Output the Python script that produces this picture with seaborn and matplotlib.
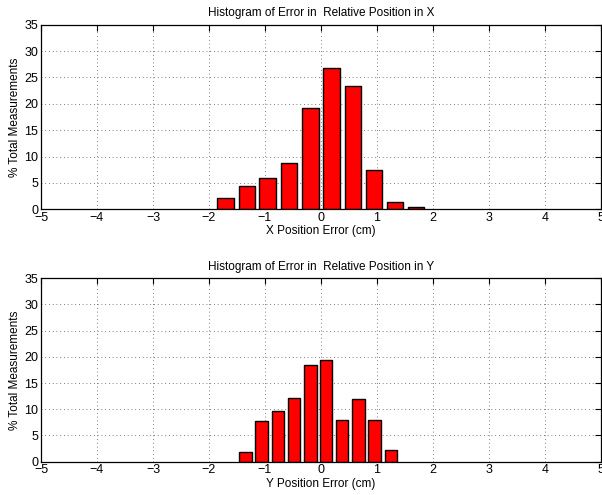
import numpy as np
import pandas as pd
import matplotlib
matplotlib.use("Agg")
import matplotlib.pyplot as plt
import seaborn as sns

x_centers = [-1.70, -1.32, -0.95, -0.57, -0.19, 0.19, 0.57, 0.95, 1.32, 1.70]
x_percent = [2.1, 4.5, 5.9, 8.8, 19.2, 26.7, 23.3, 7.4, 1.4, 0.45]

y_centers = [-1.35, -1.06, -0.77, -0.48, -0.19, 0.09, 0.38, 0.67, 0.96, 1.25]
y_percent = [1.8, 7.7, 9.7, 12.2, 18.5, 19.5, 8.0, 12.0, 7.9, 2.2]

x_ticks = [-5, -4, -3, -2, -1, 0, 1, 2, 3, 4, 5]
y_ticks = [0, 5, 10, 15, 20, 25, 30, 35]

sns.set_style("white")
plt.rcParams["font.family"] = ["Liberation Sans", "DejaVu Sans"]
plt.rcParams["font.size"] = 8.5
plt.rcParams["text.color"] = "black"
plt.rcParams["axes.labelcolor"] = "black"
plt.rcParams["xtick.color"] = "black"
plt.rcParams["ytick.color"] = "black"

fig = plt.figure(figsize=(6.02, 4.95), dpi=100)
ax_top = fig.add_axes([0.0681, 0.5772, 0.930, 0.373])
ax_bot = fig.add_axes([0.0681, 0.0673, 0.930, 0.3705])


def draw_hist(ax, centers, pct, title, xlabel):
    df = pd.DataFrame({"err": centers, "pct": pct})
    sns.barplot(data=df, x="err", y="pct", native_scale=True, width=0.8,
                color="red", saturation=1, edgecolor="black", linewidth=1,
                ax=ax)
    ax.set_xlim(-5, 5)
    ax.set_ylim(0, 35)
    ax.set_xticks(x_ticks)
    ax.set_yticks(y_ticks)
    ax.grid(True, linestyle=(0, (1, 3.5)), color="#555555", linewidth=0.6)
    ax.set_axisbelow(True)
    ax.tick_params(direction="in", top=True, right=True, length=4, width=0.8,
                   labelsize=9, pad=2)
    for s in ax.spines.values():
        s.set_visible(True)
        s.set_color("black")
        s.set_linewidth(0.9)
    ax.set_title(title, fontsize=8.5, pad=6)
    ax.set_xlabel(xlabel, fontsize=8.5, labelpad=1)
    ax.set_ylabel("% Total Measurements", fontsize=8.5, labelpad=2)


draw_hist(ax_top, x_centers, x_percent,
          "Histogram of Error in  Relative Position in X", "X Position Error (cm)")
draw_hist(ax_bot, y_centers, y_percent,
          "Histogram of Error in  Relative Position in Y", "Y Position Error (cm)")

fig.savefig("out.png", dpi=100)
